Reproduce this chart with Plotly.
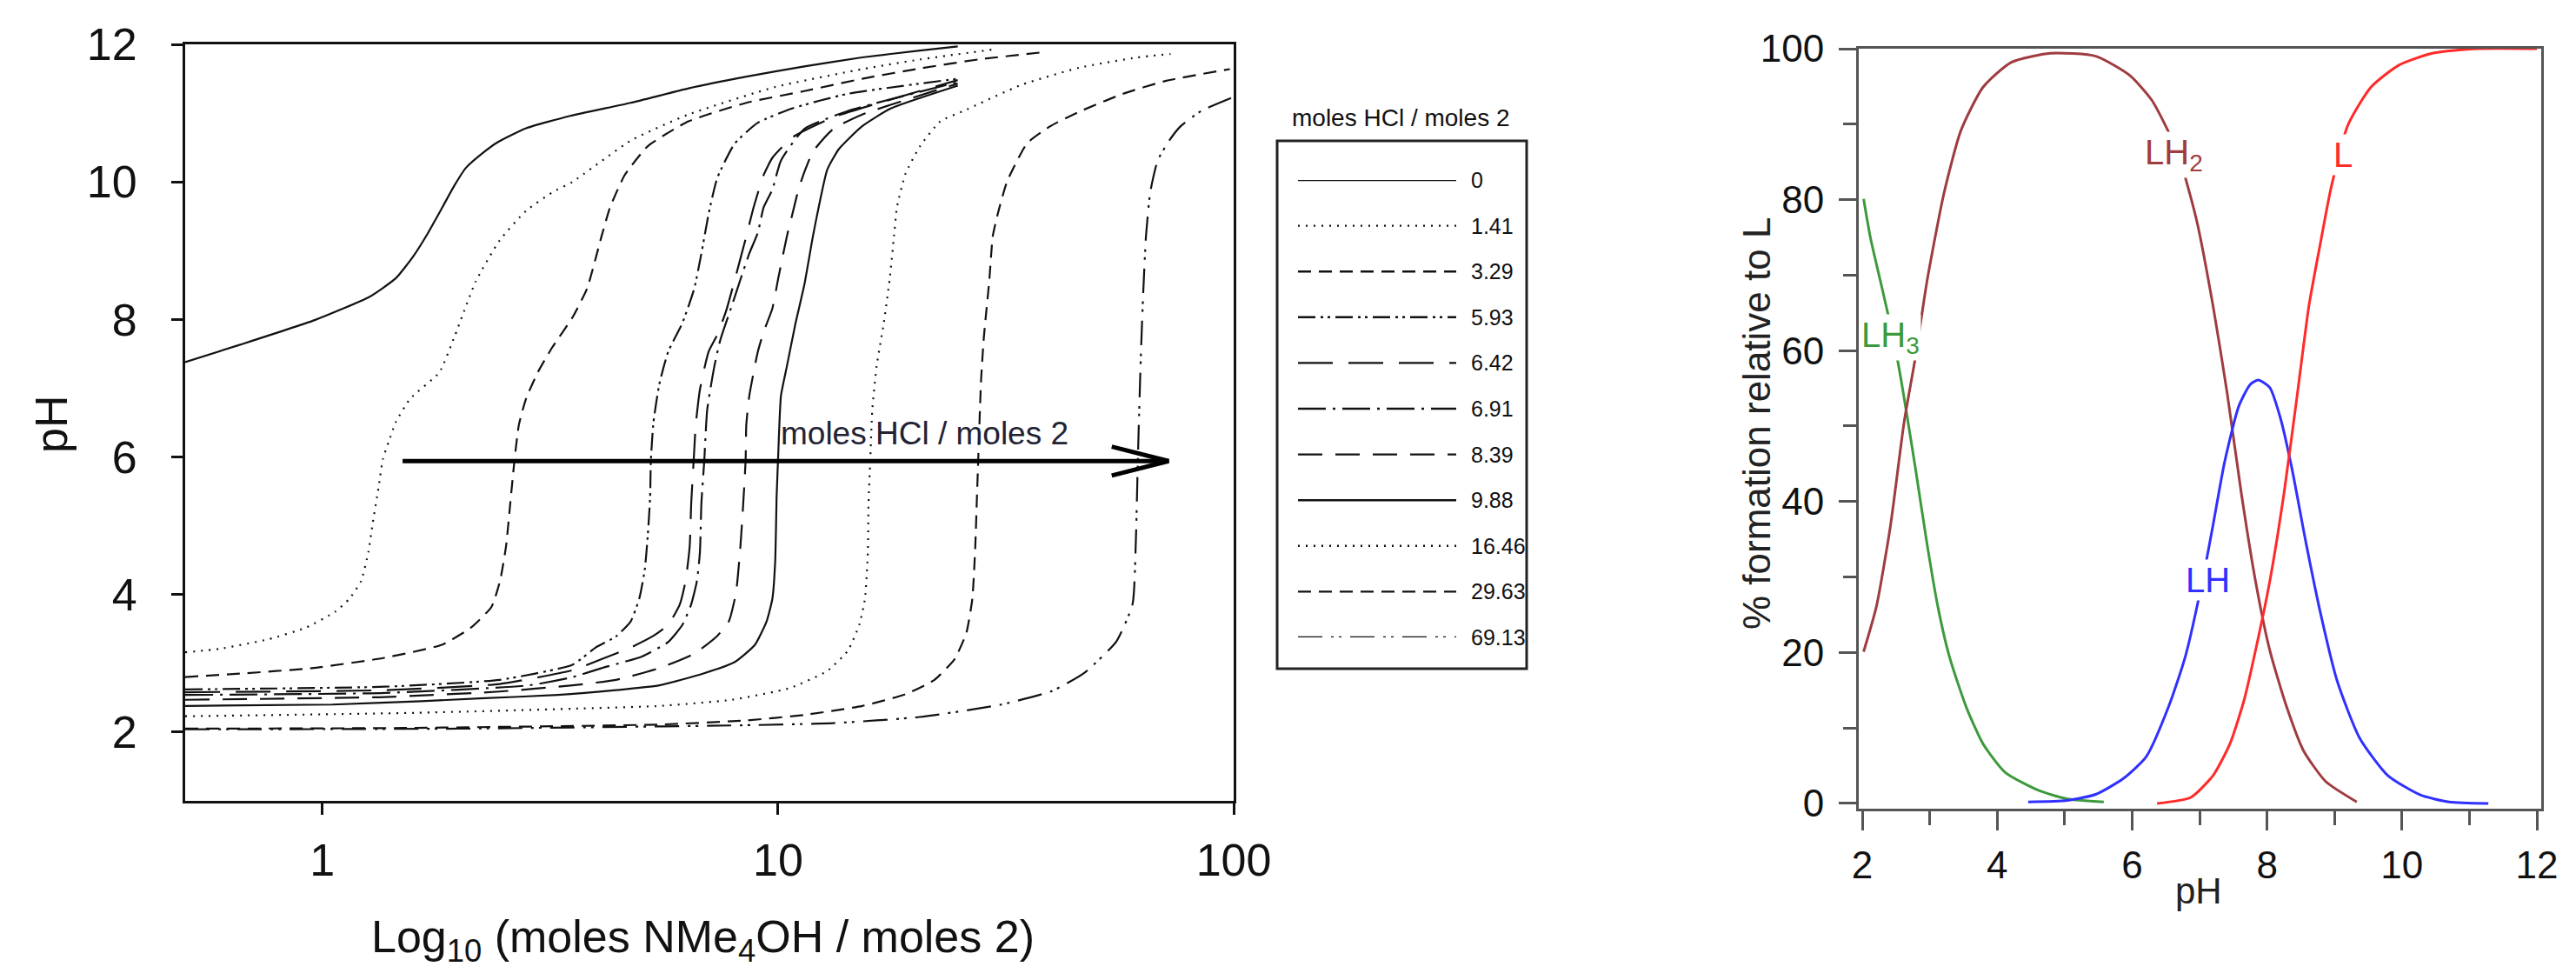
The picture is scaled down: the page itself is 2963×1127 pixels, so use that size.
import plotly.graph_objects as go

W, H = 2963, 1127
FONT = "Liberation Sans"

# ---------------- Left panel: titration curves (x = moles NMe4OH / moles 2, y = pH) ----------------
hcl_ratios = ["0", "1.41", "3.29", "5.93", "6.42", "6.91", "8.39", "9.88", "16.46", "29.63", "69.13"]

x_0 = [0.5, 0.658, 0.962, 1.27, 1.45, 1.584, 1.703, 1.83, 1.95, 2.063, 2.25, 2.43, 2.8, 3.5, 4.75, 6.36,
       8.52, 11.42, 15.3, 20.5, 24.8]
ph_0 = [7.38, 7.63, 7.99, 8.33, 8.60, 8.92, 9.25, 9.62, 9.95, 10.20, 10.42, 10.58, 10.78, 10.96, 11.15,
        11.36, 11.53, 11.68, 11.81, 11.91, 11.97]

x_141 = [0.5, 0.594, 0.762, 0.921, 1.067, 1.147, 1.217, 1.262, 1.29, 1.328, 1.358, 1.398, 1.45, 1.56, 1.806,
         1.95, 2.17, 2.45, 2.8, 3.2, 3.54, 4.75, 6.36, 9.86, 15.3, 20.5, 30.0]
ph_141 = [3.16, 3.21, 3.35, 3.52, 3.75, 3.94, 4.20, 4.62, 5.04, 5.55, 5.97, 6.22, 6.51, 6.85, 7.23,
          7.75, 8.55, 9.15, 9.58, 9.85, 10.0, 10.60, 10.98, 11.38, 11.64, 11.78, 11.93]

x_329 = [0.5, 0.658, 0.949, 1.368, 1.83, 2.12, 2.35, 2.455, 2.53, 2.585, 2.64, 2.70, 2.80, 2.97, 3.2, 3.54,
         3.81, 4.10, 4.28, 4.61, 5.18, 6.36, 8.52, 11.42, 15.3, 20.5, 27.5, 38.7]
ph_329 = [2.80, 2.85, 2.93, 3.08, 3.27, 3.52, 3.82, 4.20, 4.70, 5.33, 5.95, 6.47, 6.85, 7.23, 7.6, 8.03,
          8.45, 9.21, 9.63, 10.10, 10.52, 10.88, 11.15, 11.32, 11.50, 11.65, 11.78, 11.89]

x_593 = [0.5, 1.37, 2.45, 3.54, 3.98, 4.41, 4.75, 4.96, 5.10, 5.18, 5.24, 5.26, 5.33, 5.49, 5.74, 6.17,
         6.55, 6.79, 7.05, 7.36, 8.04, 9.03, 10.77, 14.2, 24.8]
ph_593 = [2.62, 2.66, 2.76, 2.98, 3.23, 3.39, 3.61, 3.94, 4.36, 4.87, 5.42, 5.95, 6.51, 7.06, 7.53, 7.95,
          8.45, 8.96, 9.55, 10.06, 10.56, 10.86, 11.07, 11.28, 11.50]

x_642 = [0.5, 1.37, 2.45, 3.54, 4.10, 4.75, 5.33, 5.74, 6.09, 6.27, 6.40, 6.45, 6.53, 6.60, 6.74, 7.04,
         7.36, 7.69, 8.04, 8.52, 8.84, 9.30, 9.72, 10.77, 13.22, 24.8]
ph_642 = [2.58, 2.61, 2.70, 2.90, 3.06, 3.23, 3.40, 3.56, 3.86, 4.20, 4.70, 5.33, 5.95, 6.47, 6.98, 7.53,
          7.78, 8.12, 8.58, 9.21, 9.63, 10.10, 10.35, 10.65, 10.94, 11.48]

x_691 = [0.5, 1.37, 2.84, 3.54, 4.10, 5.03, 5.74, 6.17, 6.45, 6.64, 6.74, 6.79, 6.89, 6.99, 7.25, 7.47,
         7.92, 8.27, 8.65, 9.03, 9.30, 9.72, 10.15, 11.42, 14.22, 24.8]
ph_691 = [2.54, 2.57, 2.68, 2.80, 2.93, 3.10, 3.31, 3.56, 3.86, 4.20, 4.62, 5.33, 5.95, 6.68, 7.32, 7.70,
          8.20, 8.58, 8.96, 9.26, 9.63, 9.89, 10.31, 10.77, 11.03, 11.45]

x_839 = [0.5, 1.368, 2.45, 3.54, 4.41, 5.49, 6.55, 7.36, 7.80, 8.09, 8.27, 8.39, 8.49, 8.52, 8.65, 9.03,
         9.30, 9.72, 10.0, 10.46, 10.77, 11.09, 11.42, 11.93, 13.22, 15.3, 24.8]
ph_839 = [2.47, 2.51, 2.59, 2.68, 2.76, 2.93, 3.14, 3.40, 3.61, 4.03, 4.70, 5.33, 5.95, 6.47, 6.89, 7.53,
          7.82, 8.16, 8.58, 9.21, 9.55, 9.89, 10.14, 10.44, 10.77, 10.98, 11.43]

x_988 = [0.5, 1.05, 1.65, 2.22, 3.29, 4.41, 5.49, 6.84, 8.04, 8.90, 9.44, 9.72, 9.86, 9.93, 10.0, 10.15,
         10.46, 10.93, 11.42, 11.93, 12.28, 12.83, 13.61, 15.30, 17.71, 24.8]
ph_988 = [2.38, 2.40, 2.45, 2.49, 2.54, 2.61, 2.68, 2.85, 3.02, 3.27, 3.61, 3.94, 4.49, 5.42, 5.95, 6.89,
          7.32, 7.95, 8.50, 9.21, 9.63, 10.18, 10.48, 10.81, 11.07, 11.40]

x_1646 = [0.5, 1.60, 3.54, 5.49, 7.92, 10.61, 12.83, 14.22, 15.08, 15.52, 15.75, 15.80, 15.94, 16.1, 16.46,
          17.07, 17.58, 17.97, 18.24, 19.05, 20.5, 22.7, 25.5, 34.2, 45.8, 61.4, 72.7]
ph_1646 = [2.23, 2.28, 2.34, 2.38, 2.47, 2.64, 2.89, 3.18, 3.56, 3.94, 4.62, 5.33, 5.95, 6.68, 7.32,
           7.95, 8.58, 9.21, 9.63, 10.12, 10.52, 10.88, 11.03, 11.41, 11.66, 11.81, 11.86]

x_2963 = [0.5, 1.5, 5.49, 8.52, 11.42, 15.3, 19.05, 22.05, 24.4, 25.9, 26.7, 27.1, 27.3, 27.5, 27.9, 28.3,
          29.1, 29.6, 30.4, 31.8, 35.2, 39.6, 45.8, 57.1, 71.1, 98.1]
ph_2963 = [2.05, 2.06, 2.11, 2.17, 2.25, 2.38, 2.55, 2.76, 3.06, 3.44, 3.94, 4.70, 5.33, 5.95, 7.11, 7.74,
           8.58, 9.21, 9.55, 10.0, 10.56, 10.81, 11.02, 11.28, 11.47, 11.64]

x_6913 = [0.5, 2.0, 8.52, 13.2, 20.5, 30.9, 40.0, 47.0, 55.3, 60.0, 61.0, 61.6, 62.0, 62.6, 63.3, 64.2,
          65.6, 68.1, 72.2, 76.5, 84.8, 98.8]
ph_6913 = [2.04, 2.05, 2.10, 2.13, 2.22, 2.40, 2.60, 2.86, 3.32, 3.86, 4.78, 5.92, 6.60, 7.53, 8.37, 9.21,
           9.85, 10.31, 10.60, 10.81, 11.03, 11.22]

curves_x = [x_0, x_141, x_329, x_593, x_642, x_691, x_839, x_988, x_1646, x_2963, x_6913]
curves_ph = [ph_0, ph_141, ph_329, ph_593, ph_642, ph_691, ph_839, ph_988, ph_1646, ph_2963, ph_6913]
dash_styles = ["solid", "2px,7px", "15px,9px", "20px,6px,3px,5px,3px,6px", "40px,18px",
               "32px,8px,3px,8px", "28px,15px", "solid", "2px,7px", "15px,9px",
               "28px,10px,3px,6px,3px,10px"]

# arrow "moles HCl / moles 2"
arrow_ph = 5.94
arrow_x = [1.5, 72.0]
arrow_head_x = [54.0, 72.0, 54.0]
arrow_head_ph = [6.15, 5.94, 5.73]
legend_sample_x = [0, 1]

# ---------------- Right panel: species distribution ----------------
ph_lh3 = [2.02, 2.12, 2.29, 2.46, 2.58, 2.67, 2.79, 2.96, 3.12, 3.29, 3.54, 3.79, 4.12, 4.62, 5.04, 5.58]
pc_lh3 = [80.1, 75.0, 68.4, 61.7, 55.9, 51.0, 44.3, 34.4, 26.1, 19.5, 12.8, 7.9, 4.1, 1.7, 0.6, 0.2]

ph_lh2 = [2.02, 2.21, 2.42, 2.62, 2.79, 2.96, 3.21, 3.46, 3.79, 4.21, 4.79, 5.46, 5.96, 6.29, 6.66, 6.95,
          7.20, 7.41, 7.62, 7.83, 8.04, 8.29, 8.54, 8.87, 9.33]
pc_lh2 = [20.1, 26.1, 36.9, 50.5, 59.2, 69.2, 80.8, 89.1, 94.9, 98.2, 99.4, 99.0, 96.5, 93.2, 86.6, 77.5,
          65.9, 54.3, 41.0, 29.4, 20.3, 12.8, 7.0, 2.9, 0.2]

ph_lh = [4.46, 5.04, 5.46, 5.87, 6.21, 6.54, 6.79, 7.04, 7.20, 7.37, 7.58, 7.75, 7.87, 8.04, 8.20, 8.37,
         8.58, 8.79, 9.04, 9.37, 9.79, 10.28, 10.70, 11.28]
pc_lh = [0.2, 0.4, 1.2, 3.3, 6.2, 12.8, 19.5, 29.4, 36.9, 45.2, 52.6, 55.5, 56.1, 55.1, 51.0, 44.3,
         34.4, 25.3, 16.2, 8.7, 3.7, 1.1, 0.2, 0.0]

ph_l = [6.37, 6.87, 7.20, 7.45, 7.66, 7.83, 8.04, 8.25, 8.45, 8.62, 8.79, 8.95, 9.20, 9.54, 9.95, 10.45,
        11.12, 12.0]
pc_l = [0.0, 0.8, 3.7, 7.9, 13.7, 20.3, 29.4, 41.0, 54.3, 65.9, 74.2, 81.6, 89.9, 94.9, 97.8, 99.4,
        100.0, 100.0]

species = ["LH<sub>3</sub>", "LH<sub>2</sub>", "LH", "L"]
species_ph = [ph_lh3, ph_lh2, ph_lh, ph_l]
species_pc = [pc_lh3, pc_lh2, pc_lh, pc_l]
species_colors = ["#3c9a3c", "#9e3c40", "#3030ff", "#ff2a2a"]
species_label_ph = [2.42, 6.62, 7.12, 9.12]
species_label_pc = [61.7, 86.0, 29.6, 85.9]

fig = go.Figure()

for xs, ys, d, name in zip(curves_x, curves_ph, dash_styles, hcl_ratios):
    fig.add_trace(go.Scatter(x=xs, y=ys, mode="lines", name=name,
                             line=dict(color="#111111", width=2.2, dash=d, shape="spline", smoothing=0.5),
                             xaxis="x", yaxis="y"))

fig.add_trace(go.Scatter(x=arrow_x, y=[arrow_ph, arrow_ph], mode="lines",
                         line=dict(color="#000000", width=5), xaxis="x", yaxis="y"))
fig.add_trace(go.Scatter(x=arrow_head_x, y=arrow_head_ph, mode="lines",
                         line=dict(color="#000000", width=5), xaxis="x", yaxis="y"))

# legend samples
for i, (d, name) in enumerate(zip(dash_styles, hcl_ratios)):
    fig.add_trace(go.Scatter(x=legend_sample_x, y=[i, i], mode="lines",
                             line=dict(color="#111111", width=2.4, dash=d), xaxis="x3", yaxis="y3"))

for xs, ys, c in zip(species_ph, species_pc, species_colors):
    fig.add_trace(go.Scatter(x=xs, y=ys, mode="lines", line=dict(color=c, width=3, shape="spline", smoothing=0.6),
                             xaxis="x2", yaxis="y2"))

ann = []
for i, name in enumerate(hcl_ratios):
    ann.append(dict(x=1682 / W, xref="paper", y=i, yref="y3", text=name, showarrow=False,
                    xanchor="left", yanchor="middle", font=dict(family=FONT, size=25, color="#111")))
ann.append(dict(x=1603 / W, xref="paper", y=1 - 127 / H, yref="paper", text="moles HCl / moles 2",
                showarrow=False, xanchor="center", yanchor="middle", font=dict(family=FONT, size=28, color="#111")))
ann.append(dict(x=888 / W, xref="paper", y=6.06, yref="y", text="moles HCl / moles 2", showarrow=False,
                xanchor="left", yanchor="bottom", font=dict(family=FONT, size=37, color="#222233")))
ann.append(dict(x=800 / W, xref="paper", y=1 - 1073 / H, yref="paper",
                text="Log<sub>10</sub> (moles NMe<sub>4</sub>OH / moles 2)", showarrow=False,
                xanchor="center", yanchor="middle", font=dict(family=FONT, size=52, color="#111")))
ann.append(dict(x=51 / W, xref="paper", y=1 - 480 / H, yref="paper", text="pH", textangle=-90,
                showarrow=False, xanchor="center", yanchor="middle", font=dict(family=FONT, size=52, color="#111")))
ann.append(dict(x=2521 / W, xref="paper", y=1 - 1016 / H, yref="paper", text="pH", showarrow=False,
                xanchor="center", yanchor="middle", font=dict(family=FONT, size=42, color="#222")))
ann.append(dict(x=2012 / W, xref="paper", y=1 - 479 / H, yref="paper", text="% formation relative to L",
                textangle=-90, showarrow=False, xanchor="center", yanchor="middle",
                font=dict(family=FONT, size=44, color="#222")))
for t, px, pc, c in zip(species, species_label_ph, species_label_pc, species_colors):
    ann.append(dict(x=px, xref="x2", y=pc, yref="y2", text=t, showarrow=False, bgcolor="white",
                    xanchor="center", yanchor="middle", font=dict(family=FONT, size=40, color=c)))

shapes = [dict(type="rect", xref="paper", yref="paper", x0=1461 / W, x1=1748 / W,
               y0=1 - 761 / H, y1=1 - 154 / H, line=dict(color="#222", width=3))]

left_tick = dict(family=FONT, size=52, color="#111")
right_tick = dict(family=FONT, size=44, color="#111")

fig.update_layout(
    width=W, height=H, margin=dict(l=0, r=0, t=0, b=0, autoexpand=False),
    paper_bgcolor="white", plot_bgcolor="white", showlegend=False,
    annotations=ann, shapes=shapes,
    xaxis=dict(domain=[205 / W, 1411 / W], type="log", range=[-0.30103, 2.0], tickvals=[1, 10, 100],
               ticktext=["1", "10", "100"], ticks="outside", ticklen=13, tickwidth=2.5, tickcolor="#111",
               showline=True, linewidth=3, linecolor="#111", mirror=True, showgrid=False, zeroline=False,
               tickfont=left_tick, ticklabelstandoff=8, anchor="y", automargin=False),
    yaxis=dict(domain=[1 - 913 / H, 1 - 43 / H], range=[1, 12], tick0=2, dtick=2, ticks="outside",
               ticklen=13, tickwidth=2.5, tickcolor="#111", showline=True, linewidth=3, linecolor="#111",
               mirror=True, showgrid=False, zeroline=False, tickfont=left_tick, ticklabelstandoff=29,
               anchor="x", automargin=False),
    xaxis2=dict(domain=[2130 / W, 2915 / W], range=[1.948, 12.064], tick0=2, dtick=2, ticks="outside",
                ticklen=22, tickwidth=2.5, tickcolor="#555", showline=True, linewidth=3, linecolor="#555",
                mirror=True, showgrid=False, zeroline=False, tickfont=right_tick, ticklabelstandoff=2,
                minor=dict(ticks="outside", ticklen=16, tickwidth=2.5, tickcolor="#555", dtick=1, tick0=1,
                           showgrid=False),
                anchor="y2", automargin=False),
    yaxis2=dict(domain=[1 - 922 / H, 1 - 48 / H], range=[-0.7, 100], tick0=0, dtick=20, ticks="outside",
                ticklen=20, tickwidth=2.5, tickcolor="#555", showline=True, linewidth=3, linecolor="#555",
                mirror=True, showgrid=False, zeroline=False, tickfont=right_tick, ticklabelstandoff=8,
                minor=dict(ticks="outside", ticklen=15, tickwidth=2.5, tickcolor="#555", dtick=10, tick0=0,
                           showgrid=False),
                anchor="x2", automargin=False),
    xaxis3=dict(domain=[1485 / W, 1667 / W], range=[0, 1], visible=False, anchor="y3", automargin=False),
    yaxis3=dict(domain=[1 - 725 / H, 1 - 199 / H], range=[10, 0], visible=False, anchor="x3",
                automargin=False),
)

fig.write_html("out.html")
